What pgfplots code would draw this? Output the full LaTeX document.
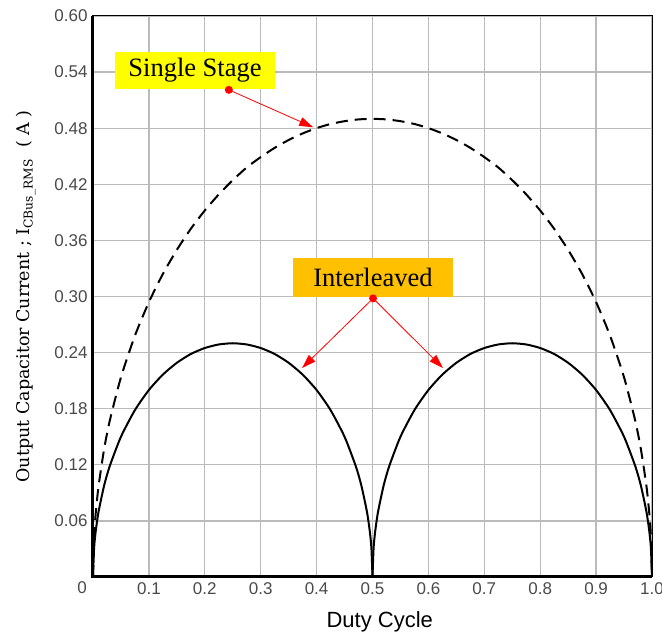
\documentclass[border=0pt]{standalone}
\usepackage{fontspec}
\setmainfont{Liberation Serif}
\setsansfont{Liberation Sans}
\newfontfamily\labelfont{DejaVu Serif}
\usepackage{pgfplots}
\pgfplotsset{compat=1.18}
\usetikzlibrary{arrows.meta}
\definecolor{boxyellow}{HTML}{FFFF00}
\definecolor{boxorange}{HTML}{FFC000}
\definecolor{ticktext}{HTML}{4A4A4A}
\definecolor{gridgray}{HTML}{BBBBBB}

\begin{document}
\begin{tikzpicture}
\begin{axis}[
  width=559pt, height=561pt, scale only axis,
  xmin=0, xmax=1, ymin=0, ymax=0.6,
  clip=false,
  axis line style={black, line width=1pt},
  xtick={0.1,0.2,0.3,0.4,0.5,0.6,0.7,0.8,0.9,1.0},
  xticklabels={0.1,0.2,0.3,0.4,0.5,0.6,0.7,0.8,0.9,1.0},
  ytick={0.06,0.12,0.18,0.24,0.30,0.36,0.42,0.48,0.54,0.60},
  yticklabels={0.06,0.12,0.18,0.24,0.30,0.36,0.42,0.48,0.54,0.60},
  major tick length=0pt,
  grid=major,
  major grid style={gridgray, line width=1.3pt},
  tick label style={font=\sffamily\fontsize{17}{19}\selectfont, text=ticktext},
  xticklabel style={yshift=-2pt},
  yticklabel style={xshift=-2pt},
  xlabel={\sffamily\fontsize{22}{24}\selectfont Duty Cycle},
  xlabel style={at={(axis description cs:0.513,0)}, anchor=center, yshift=-45pt},
  ylabel={\labelfont\fontsize{17.5}{19}\selectfont Output Capacitor Current ; I\textsubscript{CBus\_RMS}\ \ ( A )},
  ylabel style={yshift=12pt},
]
% single-stage output capacitor RMS current
\addplot[black, line width=2pt, dash pattern=on 12pt off 7pt, smooth, tension=0.4] coordinates {
 (0,0) (0.002,0.0438) (0.005,0.0691) (0.01,0.0975) (0.02,0.1372) (0.03,0.1672)
 (0.05,0.2136) (0.075,0.2581) (0.1,0.2940) (0.125,0.3241) (0.15,0.3499)
 (0.175,0.3724) (0.2,0.3920) (0.225,0.4092) (0.25,0.4244) (0.275,0.4380)
 (0.3,0.4491) (0.325,0.4590) (0.35,0.4674) (0.375,0.4744) (0.4,0.4801)
 (0.425,0.4845) (0.45,0.4875) (0.475,0.4894) (0.5,0.4900)
 (0.525,0.4894) (0.55,0.4875) (0.575,0.4845) (0.6,0.4801) (0.625,0.4744)
 (0.65,0.4674) (0.675,0.4590) (0.7,0.4491) (0.725,0.4380) (0.75,0.4244)
 (0.775,0.4092) (0.8,0.3920) (0.825,0.3724) (0.85,0.3499) (0.875,0.3241)
 (0.9,0.2940) (0.925,0.2581) (0.95,0.2136) (0.97,0.1672) (0.98,0.1372)
 (0.99,0.0975) (0.995,0.0691) (0.998,0.0438) (1,0)
};
% two-phase interleaved output capacitor RMS current, first arch
\addplot[black, line width=2pt, smooth, tension=0.4] coordinates {
 (0,0) (0.002,0.0315) (0.005,0.0497) (0.01,0.0700) (0.02,0.0980) (0.03,0.1187)
 (0.05,0.1500) (0.075,0.1785) (0.1,0.2000) (0.125,0.2165) (0.15,0.2291)
 (0.175,0.2385) (0.2,0.2449) (0.225,0.2487) (0.25,0.2500) (0.275,0.2487)
 (0.3,0.2449) (0.325,0.2385) (0.35,0.2291) (0.375,0.2165) (0.4,0.2000)
 (0.425,0.1785) (0.45,0.1500) (0.47,0.1187) (0.48,0.0980) (0.49,0.0700)
 (0.495,0.0497) (0.498,0.0315) (0.5,0)
};
% second arch
\addplot[black, line width=2pt, smooth, tension=0.4] coordinates {
 (0.5,0) (0.502,0.0315) (0.505,0.0497) (0.51,0.0700) (0.52,0.0980) (0.53,0.1187)
 (0.55,0.1500) (0.575,0.1785) (0.6,0.2000) (0.625,0.2165) (0.65,0.2291)
 (0.675,0.2385) (0.7,0.2449) (0.725,0.2487) (0.75,0.2500) (0.775,0.2487)
 (0.8,0.2449) (0.825,0.2385) (0.85,0.2291) (0.875,0.2165) (0.9,0.2000)
 (0.925,0.1785) (0.95,0.1500) (0.97,0.1187) (0.98,0.0980) (0.99,0.0700)
 (0.995,0.0497) (0.998,0.0315) (1,0)
};
% heavy left and bottom axis lines
\draw[black, line width=3pt] (rel axis cs:0,1) -- (rel axis cs:0,0) -- (rel axis cs:1,0);
% origin label
\node[font=\sffamily\fontsize{17}{19}\selectfont, text=ticktext] at (rel axis cs:0,0) [xshift=-11pt, yshift=-11pt] {0};
% callouts
\draw[red, line width=0.8pt, -{Triangle[length=14pt,width=9pt]}] (axis cs:0.243,0.521) -- (axis cs:0.394,0.481);
\node[fill=boxyellow, minimum width=160pt, minimum height=37pt, inner sep=0pt,
      font=\fontsize{26.5}{30}\selectfont] at (axis cs:0.1825,0.5422) {Single Stage};
\fill[red] (axis cs:0.2430,0.5210) circle (4pt);
\draw[red, line width=0.8pt, -{Triangle[length=14pt,width=9pt]}] (axis cs:0.501,0.298) -- (axis cs:0.374,0.2235);
\draw[red, line width=0.8pt, -{Triangle[length=14pt,width=9pt]}] (axis cs:0.501,0.298) -- (axis cs:0.626,0.2235);
\node[fill=boxorange, minimum width=160pt, minimum height=39pt, inner sep=0pt,
      font=\fontsize{26.5}{30}\selectfont] at (axis cs:0.5009,0.3203) {Interleaved};
\fill[red] (axis cs:0.501,0.298) circle (4pt);
\end{axis}
\pgfresetboundingbox
\path[use as bounding box] ([xshift=-93pt,yshift=-58pt]current axis.south west) rectangle ([xshift=10pt,yshift=16pt]current axis.north east);
\end{tikzpicture}
\end{document}
